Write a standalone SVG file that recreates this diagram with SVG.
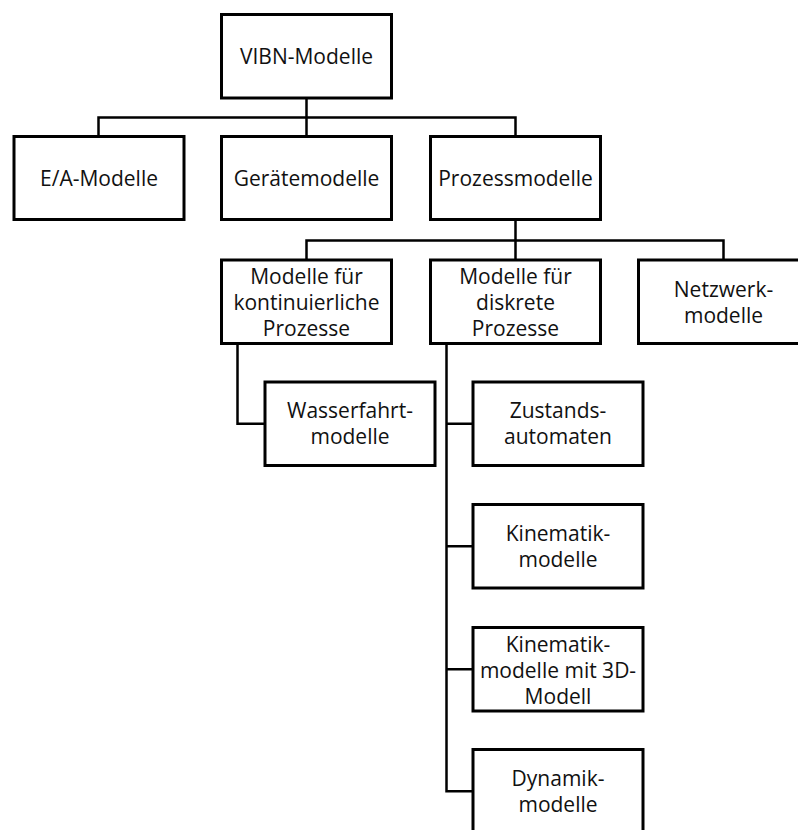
<svg xmlns="http://www.w3.org/2000/svg" width="798" height="830" viewBox="0 0 798 830">
  <style>
    .box { fill: #ffffff; stroke: #000000; stroke-width: 3; }
    .lbl { font-family: "Open Sans", "Noto Sans", "Liberation Sans", sans-serif; font-size: 21px; fill: #111111; text-anchor: middle; }
    .wire { fill: none; stroke: #000000; stroke-width: 2.5; stroke-linejoin: miter; stroke-linecap: square; }
  </style>
  <rect width="798" height="830" fill="#ffffff"/>

  <!-- tree connectors -->
  <g id="connectors">
    <path class="wire" d="M306.5 98 V117.5 M98.5 136.5 V117.5 H515.5 V136.5 M306.5 117.5 V136.5"/>
    <path class="wire" d="M515.5 219.5 V240.5 M306.5 260 V240.5 H723.5 V260 M515.5 240.5 V260"/>
    <path class="wire" d="M237.5 343.5 V423.75 H265"/>
    <path class="wire" d="M446.5 343.5 V791.25 H473 M446.5 423.75 H473 M446.5 546.25 H473 M446.5 669.25 H473"/>
  </g>

  <g id="vibn-modelle">
    <rect class="box" x="221.5" y="14.5" width="170" height="83.5"/>
    <text class="lbl" x="306.5" y="64">VIBN-Modelle</text>
  </g>

  <g id="ea-modelle">
    <rect class="box" x="14" y="136.5" width="170" height="83"/>
    <text class="lbl" x="99" y="186">E/A-Modelle</text>
  </g>

  <g id="geraetemodelle">
    <rect class="box" x="221.5" y="136.5" width="170" height="83"/>
    <text class="lbl" x="306.5" y="186">Gerätemodelle</text>
  </g>

  <g id="prozessmodelle">
    <rect class="box" x="430.5" y="136.5" width="170" height="83"/>
    <text class="lbl" x="515.5" y="186">Prozessmodelle</text>
  </g>

  <g id="kontinuierliche-prozesse">
    <rect class="box" x="221.5" y="260" width="170" height="83.5"/>
    <text class="lbl" x="306.5" y="283.5">Modelle für</text>
    <text class="lbl" x="306.5" y="309.5">kontinuierliche</text>
    <text class="lbl" x="306.5" y="335.5">Prozesse</text>
  </g>

  <g id="diskrete-prozesse">
    <rect class="box" x="430.5" y="260" width="170" height="83.5"/>
    <text class="lbl" x="515.5" y="283.5">Modelle für</text>
    <text class="lbl" x="515.5" y="309.5">diskrete</text>
    <text class="lbl" x="515.5" y="335.5">Prozesse</text>
  </g>

  <g id="netzwerkmodelle">
    <rect class="box" x="638.5" y="260" width="172" height="83.5"/>
    <text class="lbl" x="723.5" y="296.5">Netzwerk-</text>
    <text class="lbl" x="723.5" y="322.5">modelle</text>
  </g>

  <g id="wasserfahrtmodelle">
    <rect class="box" x="265" y="382" width="170" height="83.5"/>
    <text class="lbl" x="350" y="418">Wasserfahrt-</text>
    <text class="lbl" x="350" y="444">modelle</text>
  </g>

  <g id="zustandsautomaten">
    <rect class="box" x="473" y="382" width="170" height="83.5"/>
    <text class="lbl" x="558" y="418">Zustands-</text>
    <text class="lbl" x="558" y="444">automaten</text>
  </g>

  <g id="kinematikmodelle">
    <rect class="box" x="473" y="504.5" width="170" height="83.5"/>
    <text class="lbl" x="558" y="540.5">Kinematik-</text>
    <text class="lbl" x="558" y="566.5">modelle</text>
  </g>

  <g id="kinematikmodelle-3d">
    <rect class="box" x="473" y="627.5" width="170" height="83.5"/>
    <text class="lbl" x="558" y="651.5">Kinematik-</text>
    <text class="lbl" x="558" y="677.5">modelle mit 3D-</text>
    <text class="lbl" x="558" y="703.5">Modell</text>
  </g>

  <g id="dynamikmodelle">
    <rect class="box" x="473" y="749.5" width="170" height="90"/>
    <text class="lbl" x="558" y="785.5">Dynamik-</text>
    <text class="lbl" x="558" y="811.5">modelle</text>
  </g>
</svg>
